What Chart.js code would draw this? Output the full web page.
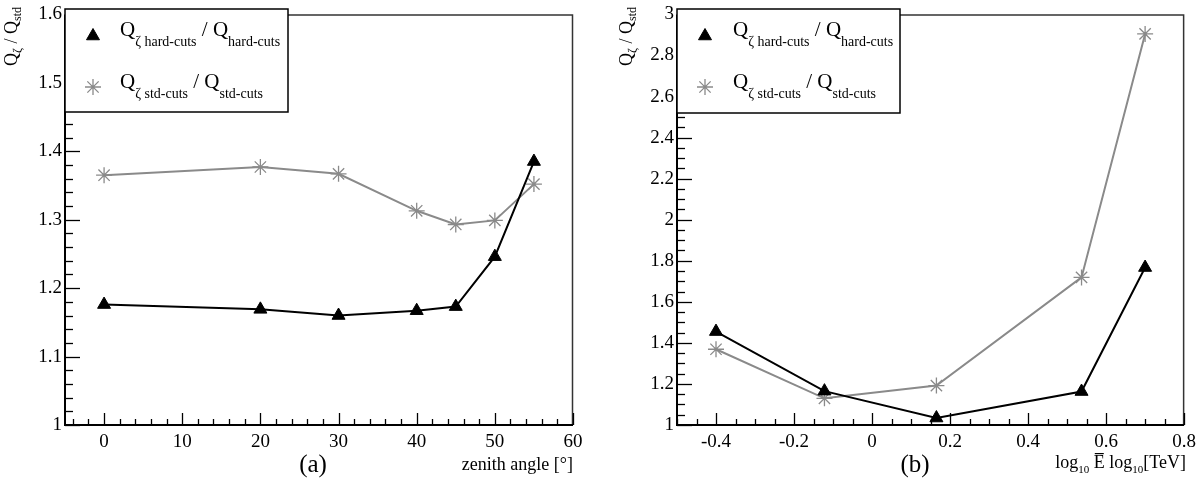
<!DOCTYPE html>
<html>
<head>
<meta charset="utf-8">
<script src="https://cdn.jsdelivr.net/npm/chart.js@4.4.1/dist/chart.umd.min.js"></script>
<style>
html, body { margin: 0; padding: 0; background: #fff; }
.panel { position: absolute; top: 0; width: 601px; height: 480px; }
</style>
</head>
<body>
<div class="panel" style="left:0"><canvas id="chartA"></canvas></div>
<div class="panel" style="left:601px"><canvas id="chartB"></canvas></div>
<script>
// (a) ratio vs zenith angle
const zenithAngles = [0, 20, 30, 40, 45, 50, 55];
const hardCutsZenith = [1.176, 1.169, 1.160, 1.167, 1.173, 1.246, 1.385];
const stdCutsZenith = [1.365, 1.377, 1.367, 1.313, 1.293, 1.299, 1.352];
const zenithTicks = [0, 10, 20, 30, 40, 50, 60];
const ratioTicksA = [1, 1.1, 1.2, 1.3, 1.4, 1.5, 1.6];

// (b) ratio vs log10 energy
const logEnergy = [-0.4, -0.122, 0.165, 0.537, 0.70];
const hardCutsEnergy = [1.455, 1.165, 1.034, 1.163, 1.767];
const stdCutsEnergy = [1.369, 1.130, 1.192, 1.719, 2.905];
const energyTicks = [-0.4, -0.2, 0, 0.2, 0.4, 0.6, 0.8];
const ratioTicksB = [1, 1.2, 1.4, 1.6, 1.8, 2, 2.2, 2.4, 2.6, 2.8, 3];

const SERIF = '"Liberation Serif", "DejaVu Serif", serif';
const GREY = '#8a8a8a';

function toPoints(xs, ys) {
    return xs.map((x, i) => ({ x: x, y: ys[i] }));
}

// draws text pieces with subscripts, starting at x; returns total width
function richText(ctx, parts, x, y, measureOnly) {
    let w = 0;
    parts.forEach(p => {
        ctx.font = p.size + 'px ' + SERIF;
        const pw = ctx.measureText(p.t).width;
        if (!measureOnly) {
            ctx.fillText(p.t, x + w, y + (p.dy || 0));
            if (p.over) {
                ctx.save();
                ctx.strokeStyle = '#000';
                ctx.lineWidth = 1.2;
                ctx.beginPath();
                ctx.moveTo(x + w + 1, y - p.size * 0.8);
                ctx.lineTo(x + w + pw - 1, y - p.size * 0.8);
                ctx.stroke();
                ctx.restore();
            }
        }
        w += pw;
    });
    return w;
}

function minorValues(min, max, step) {
    const out = [];
    for (let i = Math.ceil(min / step - 1e-6); i <= Math.floor(max / step + 1e-6); i++) {
        out.push(i * step);
    }
    return out;
}

const decoPlugin = {
    id: 'deco',
    beforeDatasetsDraw(chart, args, d) {
        const { ctx, chartArea: a, scales: { x, y } } = chart;
        ctx.save();
        // frame
        ctx.strokeStyle = '#333';
        ctx.lineWidth = 1.5;
        ctx.beginPath();
        ctx.moveTo(a.left, a.top + 0.5);
        ctx.lineTo(a.right - 0.5, a.top + 0.5);
        ctx.lineTo(a.right - 0.5, a.bottom);
        ctx.stroke();

        // ticks drawn inside the frame
        ctx.strokeStyle = '#000';
        ctx.lineWidth = 1.3;
        minorValues(x.min, x.max, d.xMinor).forEach(v => {
            const px = Math.round(x.getPixelForValue(v)) + 0.5;
            const major = Math.abs(v / d.xMajor - Math.round(v / d.xMajor)) < 1e-6;
            ctx.beginPath();
            ctx.moveTo(px, a.bottom);
            ctx.lineTo(px, a.bottom - (major ? 12 : 6));
            ctx.stroke();
        });
        minorValues(y.min, y.max, d.yMinor).forEach(v => {
            const py = Math.round(y.getPixelForValue(v)) + 0.5;
            const major = Math.abs(v / d.yMajor - Math.round(v / d.yMajor)) < 1e-6;
            ctx.beginPath();
            ctx.moveTo(a.left, py);
            ctx.lineTo(a.left + (major ? 15 : 8), py);
            ctx.stroke();
        });

        // axes
        ctx.lineWidth = 2;
        ctx.beginPath();
        ctx.moveTo(a.left, a.top);
        ctx.lineTo(a.left, a.bottom);
        ctx.lineTo(a.right, a.bottom);
        ctx.stroke();
        ctx.restore();
    },
    afterDraw(chart, args, d) {
        const { ctx } = chart;
        ctx.save();
        ctx.textBaseline = 'alphabetic';

        // legend box
        const b = d.legendBox;
        ctx.fillStyle = '#fff';
        ctx.fillRect(b[0], b[1], b[2] - b[0], b[3] - b[1]);
        ctx.strokeStyle = '#000';
        ctx.lineWidth = 1.5;
        ctx.strokeRect(b[0], b[1], b[2] - b[0], b[3] - b[1]);
        ctx.fillStyle = '#000';

        chart.data.datasets.forEach((ds, i) => {
            const row = d.legendRows[i];
            ctx.save();
            ctx.fillStyle = ds.pointBackgroundColor;
            ctx.strokeStyle = ds.pointBorderColor;
            ctx.lineWidth = ds.pointBorderWidth;
            Chart.helpers.drawPoint(ctx, { pointStyle: ds.pointStyle, radius: ds.pointRadius, rotation: 0, borderWidth: ds.pointBorderWidth }, d.legendMarkerX, row.y);
            ctx.restore();
            richText(ctx, row.parts, d.legendTextX, row.base);
        });

        // rotated y title, right-aligned to the top of the axis
        ctx.save();
        ctx.translate(d.yTitleX, d.yTitleTop);
        ctx.rotate(-Math.PI / 2);
        const tw = richText(ctx, d.yTitle, 0, 0, true);
        richText(ctx, d.yTitle, -tw, 0);
        ctx.restore();

        // x title, right-aligned at the axis end
        const xw = richText(ctx, d.xTitle, 0, 0, true);
        richText(ctx, d.xTitle, d.xTitleRight - xw, d.xTitleBase);

        // panel tag
        ctx.font = '25px ' + SERIF;
        ctx.textAlign = 'center';
        ctx.fillText(d.tag, d.tagX, d.tagBase);
        ctx.restore();
    }
};

function fmt(v) {
    return String(Math.round(v * 10) / 10);
}

const legendRows = [
    { y: 36, base: 36, parts: [{ t: 'Q', size: 21 }, { t: 'ζ hard-cuts', size: 14, dy: 10 }, { t: ' / Q', size: 21 }, { t: 'hard-cuts', size: 14, dy: 10 }] },
    { y: 87, base: 88, parts: [{ t: 'Q', size: 21 }, { t: 'ζ std-cuts', size: 14, dy: 10 }, { t: ' / Q', size: 21 }, { t: 'std-cuts', size: 14, dy: 10 }] }
];
const yTitle = [{ t: 'Q', size: 18 }, { t: 'ζ', size: 12, dy: 4 }, { t: ' / Q', size: 18 }, { t: 'std', size: 12, dy: 4 }];

function makeChart(id, xs, hard, std, xMin, xMax, xTickVals, yMin, yMax, yTickVals, yWidth, padRight, deco) {
    return new Chart(document.getElementById(id), {
        type: 'scatter',
        data: {
            datasets: [
                {
                    label: 'hard-cuts',
                    data: toPoints(xs, hard),
                    showLine: true,
                    borderColor: '#000',
                    borderWidth: 2,
                    pointStyle: 'triangle',
                    pointRadius: 7.5,
                    pointBackgroundColor: '#000',
                    pointBorderColor: '#000',
                    pointBorderWidth: 1
                },
                {
                    label: 'std-cuts',
                    data: toPoints(xs, std),
                    showLine: true,
                    borderColor: GREY,
                    borderWidth: 2,
                    pointStyle: 'star',
                    pointRadius: 8,
                    pointBackgroundColor: GREY,
                    pointBorderColor: GREY,
                    pointBorderWidth: 1.3
                }
            ]
        },
        options: {
            responsive: true,
            maintainAspectRatio: false,
            animation: false,
            layout: { padding: { top: 9, right: padRight, left: 0, bottom: 0 } },
            plugins: {
                legend: { display: false },
                tooltip: { enabled: false },
                deco: deco
            },
            scales: {
                x: {
                    type: 'linear',
                    min: xMin,
                    max: xMax,
                    afterBuildTicks: s => { s.ticks = xTickVals.map(v => ({ value: v })); },
                    afterFit: s => { s.height = 55; },
                    border: { display: false },
                    grid: { display: false, drawTicks: false },
                    ticks: { color: '#000', padding: 6, font: { family: SERIF, size: 19 }, callback: v => fmt(v), maxRotation: 0, autoSkip: false }
                },
                y: {
                    type: 'linear',
                    min: yMin,
                    max: yMax,
                    afterBuildTicks: s => { s.ticks = yTickVals.map(v => ({ value: v })); },
                    afterFit: s => { s.width = yWidth; },
                    border: { display: false },
                    grid: { display: false, drawTicks: false },
                    ticks: { color: '#000', padding: 3, font: { family: SERIF, size: 19 }, callback: v => fmt(v), autoSkip: false }
                }
            }
        },
        plugins: [decoPlugin]
    });
}

makeChart('chartA', zenithAngles, hardCutsZenith, stdCutsZenith, -5, 60, zenithTicks, 1, 1.6, ratioTicksA, 65, 28, {
    xMinor: 2, xMajor: 10, yMinor: 0.02, yMajor: 0.1,
    legendBox: [65, 9, 288, 112],
    legendMarkerX: 93,
    legendTextX: 120,
    legendRows: legendRows,
    yTitleX: 17, yTitleTop: 7,
    yTitle: yTitle,
    xTitle: [{ t: 'zenith angle [°]', size: 18 }],
    xTitleRight: 573, xTitleBase: 470,
    tag: '(a)', tagX: 313, tagBase: 472
});

makeChart('chartB', logEnergy, hardCutsEnergy, stdCutsEnergy, -0.5, 0.8, energyTicks, 1, 3, ratioTicksB, 76, 16, {
    xMinor: 0.05, xMajor: 0.2, yMinor: 0.05, yMajor: 0.2,
    legendBox: [76, 9, 299, 113],
    legendMarkerX: 104,
    legendTextX: 132,
    legendRows: legendRows,
    yTitleX: 31, yTitleTop: 7,
    yTitle: yTitle,
    xTitle: [{ t: 'log', size: 18 }, { t: '10', size: 11, dy: 5 }, { t: ' ', size: 18 }, { t: 'E', size: 18, over: true }, { t: ' log', size: 18 }, { t: '10', size: 11, dy: 5 }, { t: '[TeV]', size: 18 }],
    xTitleRight: 585, xTitleBase: 468,
    tag: '(b)', tagX: 314, tagBase: 472
});
</script>
</body>
</html>
